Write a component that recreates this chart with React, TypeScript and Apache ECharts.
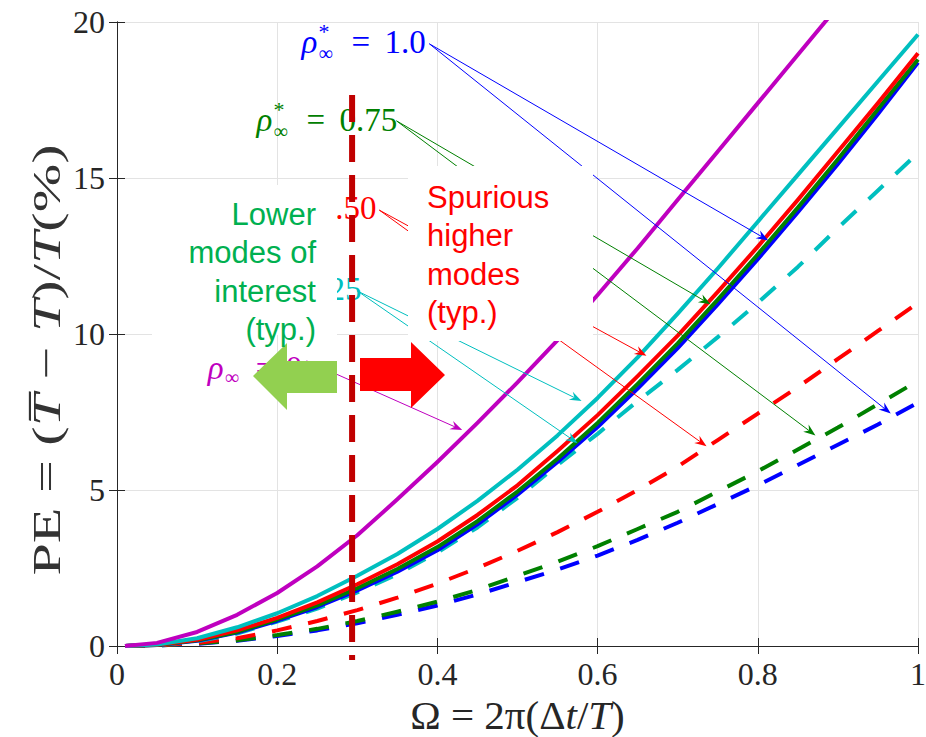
import React, { useEffect, useRef } from "react";
import * as echarts from "echarts";

// ---------- data ----------
const omega = [0.01, 0.05, 0.1, 0.15, 0.2, 0.25, 0.3, 0.35, 0.4, 0.45, 0.5, 0.55, 0.6, 0.65, 0.7, 0.75, 0.8, 0.85, 0.9, 0.95, 1.0];

// principal-mode period error (solid)
const peRho0 = [0, 0.1, 0.45, 1.0, 1.7, 2.55, 3.55, 4.7, 5.9, 7.15, 8.45, 9.8, 11.25, 12.75, 14.3, 15.85, 17.4, 18.95, 20.5, 22.1, 23.7];
const peRho025 = [0, 0.05, 0.25, 0.6, 1.05, 1.6, 2.25, 2.95, 3.75, 4.65, 5.65, 6.75, 7.95, 9.25, 10.65, 12.1, 13.6, 15.1, 16.6, 18.1, 19.6];
const peRho050 = [0, 0.04, 0.2, 0.5, 0.9, 1.4, 1.98, 2.62, 3.35, 4.2, 5.15, 6.25, 7.4, 8.65, 9.95, 11.35, 12.8, 14.3, 15.85, 17.4, 19.0];
const peRho075 = [0, 0.03, 0.18, 0.45, 0.85, 1.3, 1.85, 2.47, 3.17, 4.0, 4.95, 6.0, 7.15, 8.4, 9.7, 11.1, 12.55, 14.05, 15.6, 17.2, 18.8];
const peRho100 = [0, 0.03, 0.17, 0.43, 0.81, 1.25, 1.78, 2.38, 3.07, 3.9, 4.85, 5.9, 7.02, 8.25, 9.55, 10.95, 12.4, 13.9, 15.45, 17.05, 18.7];

// spurious higher-mode period error (dashed)
const spRho025 = [0, 0.03, 0.15, 0.4, 0.78, 1.2, 1.72, 2.3, 3.0, 3.8, 4.75, 5.8, 6.8, 7.85, 8.85, 9.9, 11.0, 12.15, 13.4, 14.6, 15.8];
const spRho050 = [0, 0.02, 0.1, 0.25, 0.5, 0.8, 1.15, 1.55, 2.0, 2.5, 3.05, 3.65, 4.3, 5.0, 5.75, 6.6, 7.45, 8.3, 9.2, 10.1, 11.0];
const spRho075 = [0, 0.02, 0.08, 0.18, 0.35, 0.55, 0.8, 1.1, 1.42, 1.8, 2.25, 2.7, 3.2, 3.75, 4.3, 4.95, 5.6, 6.3, 7.0, 7.75, 8.5];
const spRho100 = [0, 0.02, 0.07, 0.17, 0.32, 0.5, 0.73, 1.0, 1.3, 1.65, 2.05, 2.45, 2.9, 3.4, 3.95, 4.55, 5.15, 5.8, 6.45, 7.1, 7.8];

const xTicks = [0, 0.2, 0.4, 0.6, 0.8, 1];
const yTicks = [0, 5, 10, 15, 20];

const C_BLUE = "#0000FF";
const C_GREEN = "#008000";
const C_RED = "#FF0000";
const C_CYAN = "#00BFBF";
const C_MAG = "#BF00BF";

// annotation labels (anchor in data coords: left of ρ, vertical centre)
const labels = [
  { color: C_BLUE, at: [0.2304, 19.36], star: true, value: "1.0" },
  { color: C_GREEN, at: [0.1743, 16.86], star: true, value: "0.75" },
  { color: C_RED, at: [0.1482, 14.04], star: true, value: "0.50" },
  { color: C_CYAN, at: [0.1295, 11.44], star: true, value: "0.25" },
  { color: C_MAG, at: [0.1133, 8.91], star: false, value: "0" },
];

// arrows from labels to curves (data coords)
const arrows = [
  { color: C_BLUE, from: [0.39, 19.3], to: [0.813, 13.0] },
  { color: C_BLUE, from: [0.39, 19.3], to: [0.966, 7.45] },
  { color: C_GREEN, from: [0.349, 16.83], to: [0.741, 10.95] },
  { color: C_GREEN, from: [0.349, 16.83], to: [0.872, 6.75] },
  { color: C_RED, from: [0.3275, 13.97], to: [0.661, 9.3] },
  { color: C_RED, from: [0.3275, 13.97], to: [0.736, 6.4] },
  { color: C_CYAN, from: [0.3, 11.38], to: [0.58, 7.85] },
  { color: C_CYAN, from: [0.3, 11.38], to: [0.575, 6.5] },
  { color: C_MAG, from: [0.2366, 9.14], to: [0.431, 6.92] },
];

const divider = { x: 0.2935, top: 17.66, bottom: -0.45 };

const lowerText = ["Lower", "modes of", "interest", "(typ.)"];
const upperText = ["Spurious", "higher", "modes", "(typ.)"];

const SERIF = "'Liberation Serif', 'DejaVu Serif', serif";
const SANS = "'Liberation Sans', Arial, sans-serif";

function line(name: string, vals: number[], color: string, dashed: boolean) {
  return {
    type: "line",
    name,
    data: omega.map((x, i) => [x, vals[i]]),
    symbol: "none",
    showSymbol: false,
    smooth: false,
    clip: true,
    silent: true,
    lineStyle: { color, width: 4, type: dashed ? [20, 17] : "solid", cap: "butt", join: "round" },
    itemStyle: { color },
  };
}

export default function App() {
  const ref = useRef<HTMLDivElement>(null);
  useEffect(() => {
    if (!ref.current) return;
    const chart = echarts.init(ref.current, null, { renderer: "svg" });
    const axisColor = "#262626";
    const gridColor = "#E3E3E3";
    const fmt = (v: number) => String(+v.toFixed(1));
    chart.setOption({
      animation: false,
      backgroundColor: "#FFFFFF",
      grid: { left: 117, right: 8, top: 22, bottom: 91, show: false, containLabel: false, outerBoundsMode: "none" },
      xAxis: [
        {
          type: "value", min: 0, max: 1, interval: 0.2, position: "bottom",
          axisLine: { show: true, lineStyle: { color: axisColor, width: 1 } },
          axisTick: { show: true, inside: true, length: 8, lineStyle: { color: axisColor } },
          axisLabel: {
            show: true, margin: 12, color: axisColor, fontFamily: SERIF, fontSize: 32,
            formatter: (v: number) => (xTicks.some((t) => Math.abs(t - v) < 1e-9) ? fmt(v) : ""),
          },
          splitLine: { show: true, lineStyle: { color: gridColor, width: 1 } },
          name: "{n|Ω = 2π(Δ}{i|t}{n|/}{i|T}{n|)}",
          nameLocation: "middle",
          nameGap: 42,
          nameTextStyle: {
            rich: {
              n: { fontFamily: SERIF, fontSize: 41, color: axisColor, lineHeight: 40 },
              i: { fontFamily: SERIF, fontSize: 41, fontStyle: "italic", color: axisColor, lineHeight: 40 },
            },
          },
        },
        {
          type: "value", min: 0, max: 1, interval: 0.2, position: "top",
          axisLine: { show: true, lineStyle: { color: axisColor, width: 1 } },
          axisTick: { show: true, inside: true, length: 8, lineStyle: { color: axisColor } },
          axisLabel: { show: false }, splitLine: { show: false },
        },
      ],
      yAxis: [
        {
          type: "value", min: 0, max: 20, interval: 5, position: "left",
          axisLine: { show: true, lineStyle: { color: axisColor, width: 1 } },
          axisTick: { show: true, inside: true, length: 8, lineStyle: { color: axisColor } },
          axisLabel: {
            show: true, margin: 12, color: axisColor, fontFamily: SERIF, fontSize: 32,
            formatter: (v: number) => (yTicks.includes(v) ? String(v) : ""),
          },
          splitLine: { show: true, lineStyle: { color: gridColor, width: 1 } },
        },
        {
          type: "value", min: 0, max: 20, interval: 5, position: "right",
          axisLine: { show: true, lineStyle: { color: axisColor, width: 1 } },
          axisTick: { show: true, inside: true, length: 8, lineStyle: { color: axisColor } },
          axisLabel: { show: false }, splitLine: { show: false },
        },
      ],
      series: [
        line("sp100", spRho100, C_BLUE, true),
        line("sp075", spRho075, C_GREEN, true),
        line("sp050", spRho050, C_RED, true),
        line("sp025", spRho025, C_CYAN, true),
        line("pe100", peRho100, C_BLUE, false),
        line("pe075", peRho075, C_GREEN, false),
        line("pe050", peRho050, C_RED, false),
        line("pe025", peRho025, C_CYAN, false),
        line("pe0", peRho0, C_MAG, false),
      ],
    });

    const P = (p: number[]) => chart.convertToPixel({ gridIndex: 0 }, p) as number[];
    const g: any[] = [];

    // y-axis title (stretched vertically like the reference)
    g.push({
      type: "text", z: 60, x: 46, y: 360, rotation: Math.PI / 2, scaleX: 1.42,
      style: {
        text: "{n|PE = (}{i|T\u0305}{n| − }{i|T}{n|)/}{i|T}{n|(%)}",
        align: "center", verticalAlign: "middle",
        rich: {
          n: { font: `41px ${SERIF}`, fill: "#333333" },
          i: { font: `italic 41px ${SERIF}`, fill: "#333333" },
        },
      },
    });

    // arrows
    arrows.forEach((a) => {
      const [x1, y1] = P(a.from);
      const [x2, y2] = P(a.to);
      const dx = x2 - x1, dy = y2 - y1, len = Math.hypot(dx, dy);
      const ux = dx / len, uy = dy / len, nx = -uy, ny = ux;
      const L = 12, W = 4.5, N = 8;
      const bx = x2 - ux * L, by = y2 - uy * L;
      g.push({ type: "line", z: 10, shape: { x1, y1, x2: x2 - ux * N, y2: y2 - uy * N }, style: { stroke: a.color, lineWidth: 1 } });
      g.push({
        type: "polygon", z: 10,
        shape: { points: [[x2, y2], [bx + nx * W, by + ny * W], [x2 - ux * N, y2 - uy * N], [bx - nx * W, by - ny * W]] },
        style: { fill: a.color },
      });
    });

    // labels
    labels.forEach((l) => {
      const [px, py] = P(l.at);
      const children: any[] = [
        { type: "text", x: 0, y: 0, style: { text: "ρ", font: `italic 33px ${SERIF}`, fill: l.color, verticalAlign: "middle" } },
        { type: "text", x: 17, y: l.star ? 11 : 9, style: { text: "∞", font: `20px ${SERIF}`, fill: l.color, verticalAlign: "middle" } },
        { type: "text", x: l.star ? 50 : 48, y: 0, style: { text: "=", font: `33px ${SERIF}`, fill: l.color, verticalAlign: "middle" } },
        { type: "text", x: l.star ? 83 : 78, y: 0, style: { text: l.value, font: `33px ${SERIF}`, fill: l.color, verticalAlign: "middle" } },
      ];
      if (l.star) children.push({ type: "text", x: 17, y: -10, style: { text: "*", font: `22px ${SERIF}`, fill: l.color, verticalAlign: "middle" } });
      g.push({ type: "group", x: px, y: py, z: 50, children });
    });

    // dashed divider
    const [dx, dTop] = P([divider.x, divider.top]);
    const [, dBot] = P([divider.x, divider.bottom]);
    g.push({
      type: "line", z: 120,
      shape: { x1: dx, y1: dTop, x2: dx, y2: dBot },
      style: { stroke: "#C00000", lineWidth: 6, lineDash: [27, 13], lineCap: "butt" },
    });

    // white text boxes
    g.push({ type: "rect", z: 100, shape: { x: 152, y: 185, width: 185, height: 150 }, style: { fill: "#FFFFFF" } });
    g.push({ type: "rect", z: 100, shape: { x: 408, y: 166, width: 185, height: 175 }, style: { fill: "#FFFFFF" } });
    g.push({
      type: "text", z: 110, x: 316, y: 195,
      style: { text: lowerText.join("\n"), font: `31px ${SANS}`, fill: "#00B050", align: "right", verticalAlign: "top", lineHeight: 38.5 },
    });
    g.push({
      type: "text", z: 110, x: 427, y: 178,
      style: { text: upperText.join("\n"), font: `31px ${SANS}`, fill: "#FF0000", align: "left", verticalAlign: "top", lineHeight: 38.5 },
    });

    // block arrows
    g.push({
      type: "polygon", z: 105,
      shape: { points: [[253, 376], [287, 343], [287, 361], [337, 361], [337, 393], [287, 393], [287, 410]] },
      style: { fill: "#92D050" },
    });
    g.push({
      type: "polygon", z: 105,
      shape: { points: [[360, 358], [411, 358], [411, 342], [445, 375], [411, 408], [411, 391], [360, 391]] },
      style: { fill: "#FF0000" },
    });
    chart.setOption({ graphic: g });
    return () => chart.dispose();
  }, []);
  return <div ref={ref} style={{ position: "absolute", left: 0, top: 0, width: 926, height: 737 }} />;
}
